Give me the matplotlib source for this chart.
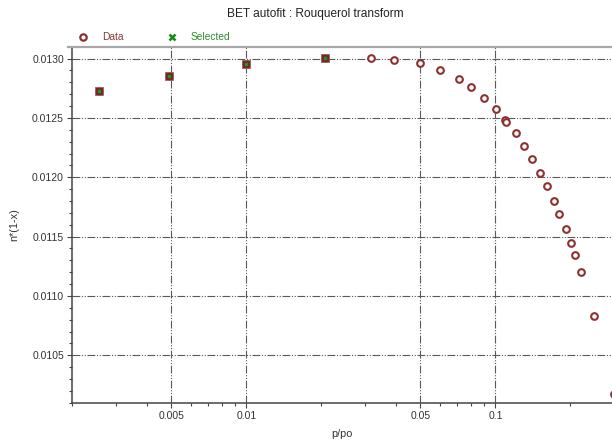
import matplotlib
matplotlib.use("Agg")
import matplotlib.pyplot as plt
from matplotlib.lines import Line2D
from matplotlib.ticker import FixedLocator, FixedFormatter, NullFormatter

plt.rcParams['font.family'] = ['Liberation Sans', 'DejaVu Sans']

# Relative pressure and Rouquerol transform n*(1-x)
p_po = [0.00255, 0.0049, 0.0100, 0.0207, 0.0315, 0.039, 0.0496, 0.0598,
        0.0711, 0.0800, 0.0899, 0.1007, 0.1095, 0.1105, 0.1206, 0.1302,
        0.1405, 0.1505, 0.1610, 0.1713, 0.1799, 0.1914, 0.2010, 0.2080,
        0.2211, 0.2486, 0.298]
n_1mx = [0.012728, 0.012851, 0.012952, 0.013005, 0.013005, 0.012992,
         0.012961, 0.012904, 0.012829, 0.012759, 0.012664, 0.012571,
         0.012481, 0.012465, 0.012370, 0.012263, 0.012154, 0.012036,
         0.011929, 0.011803, 0.011689, 0.011566, 0.011448, 0.011347,
         0.011202, 0.010829, 0.010171]

# Points picked by the autofit
sel_p_po = [0.00255, 0.0049, 0.0100, 0.0207]
sel_n_1mx = [0.012728, 0.012851, 0.012952, 0.013005]

x_major = [0.005, 0.01, 0.05, 0.1]
x_major_labels = ['0.005', '0.01', '0.05', '0.1']
x_minor = [0.002, 0.003, 0.004, 0.006, 0.007, 0.008, 0.009,
           0.02, 0.03, 0.04, 0.06, 0.07, 0.08, 0.09, 0.2]
y_major = [0.0105, 0.0110, 0.0115, 0.0120, 0.0125, 0.0130]
y_minor = [round(0.0101 + 0.0001 * i, 4) for i in range(31)]

W, H = 612, 441
fig = plt.figure(figsize=(W / 100, H / 100), dpi=100)
left, right, top, bottom = 72.3, 612, 46.7, 402.7
ax = fig.add_axes([left / W, 1 - bottom / H, (right - left) / W, (bottom - top) / H])

red = '#8c3030'
green = '#138a13'
axcol = '#444444'
grid_dash = (0, (7, 1.5, 1, 1.5, 1, 1.5))

ax.set_xscale('log')
ax.set_xlim(0.002, 0.2937)
ax.set_ylim(0.0101, 0.0131)

ax.xaxis.set_major_locator(FixedLocator(x_major))
ax.xaxis.set_major_formatter(FixedFormatter(x_major_labels))
ax.xaxis.set_minor_locator(FixedLocator(x_minor))
ax.xaxis.set_minor_formatter(NullFormatter())
ax.yaxis.set_major_locator(FixedLocator(y_major))
ax.yaxis.set_major_formatter(FixedFormatter([f'{v:.4f}' for v in y_major]))
ax.yaxis.set_minor_locator(FixedLocator(y_minor))

ax.grid(True, which='major', color='#5a5a5a', lw=0.8, linestyle=grid_dash)
ax.set_axisbelow(True)

for s in ('top', 'right'):
    ax.spines[s].set_visible(False)
for s in ('left', 'bottom'):
    ax.spines[s].set_color(axcol)
    ax.spines[s].set_linewidth(1.1)

ax.tick_params(axis='both', which='both', direction='out', colors=axcol,
               labelcolor='#333333', labelsize=7.5, width=0.8)
ax.tick_params(axis='both', which='major', length=3.5, pad=2.5)
ax.tick_params(axis='both', which='minor', length=2.5)

# All data: open circles
ax.plot(p_po, n_1mx, linestyle='none', marker='o', ms=4.8, mfc='white',
        mec=red, mew=1.5, zorder=3)
# Selected points: filled squares with a green cross
ax.plot(sel_p_po, sel_n_1mx, linestyle='none', marker='s', ms=5.4,
        mfc='#7a2626', mec='#9a6a6a', mew=0.6, zorder=4)
ax.plot(sel_p_po, sel_n_1mx, linestyle='none', marker='x', ms=2.0,
        mec='#1a9a1a', mew=1.0, zorder=5)

ax.set_xlabel('p/po', fontsize=7.8, color='#333333', labelpad=6)
ax.set_ylabel('n*(1-x)', fontsize=7.8, color='#333333', labelpad=9)

# Title
fig.text(315.5 / W, 1 - 14.3 / H, 'BET autofit : Rouquerol transform',
         ha='center', va='center', fontsize=8.6, color='#222222')

# Gray frame line above the plot
fig.add_artist(Line2D([68 / W, 1.0], [1 - 46.7 / H] * 2, color='#a8a8a8',
                      lw=1.6, transform=fig.transFigure))

# Legend
ly = 1 - 37.3 / H
fig.add_artist(Line2D([83.3 / W], [ly], marker='o', ms=4.6, mfc='white',
                      mec=red, mew=1.6, linestyle='none',
                      transform=fig.transFigure))
fig.text(102.3 / W, ly, 'Data', ha='left', va='center', fontsize=7.4,
         color='#8c3a3a')
fig.add_artist(Line2D([172 / W], [ly], marker='x', ms=4.2, mec=green,
                      mew=1.8, linestyle='none', transform=fig.transFigure))
fig.text(191 / W, ly, 'Selected', ha='left', va='center', fontsize=7.4,
         color='#2e8b2e')

fig.savefig('out.png', dpi=100)
